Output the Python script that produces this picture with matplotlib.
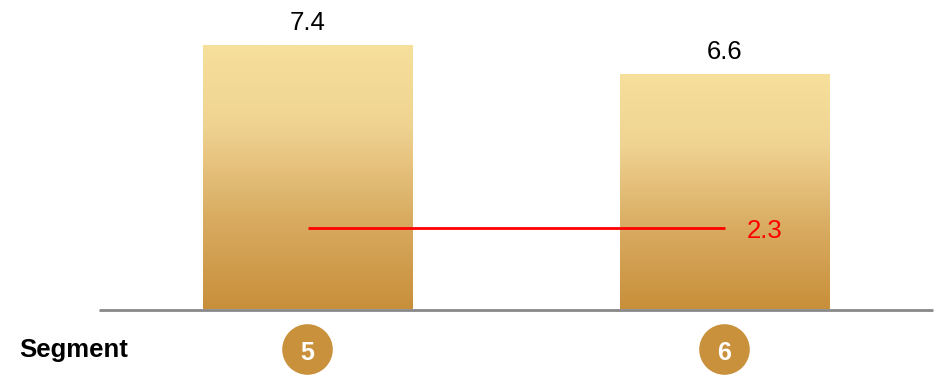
import numpy as np
import matplotlib
matplotlib.use("Agg")
import matplotlib.pyplot as plt
from matplotlib.colors import LinearSegmentedColormap
from matplotlib.patches import Circle

plt.rcParams['font.family'] = ['Liberation Sans', 'DejaVu Sans']

segments = ["5", "6"]
values = [7.4, 6.6]
average = 2.3
row_label = "Segment"

gold = "#C9913C"
cmap = LinearSegmentedColormap.from_list(
    "gold_fade",
    [(0.0, "#C88F3A"), (0.35, "#D9AC62"), (0.7, "#F0D392"), (1.0, "#F6E09B")])

W, H = 941, 375
fig = plt.figure(figsize=(W / 100, H / 100), dpi=100)
ax = fig.add_axes([99 / W, (H - 309.5) / H, 834 / W, 309.5 / H])
ax.set_xlim(-0.5, 1.5)
ax.set_ylim(0, 8.7)
ax.axis("off")

x = np.arange(len(segments))
width = 0.503
bars = ax.bar(x, values, width=width, color="none", edgecolor="none")
grad = np.linspace(0, 1, 256).reshape(-1, 1)
for bar, v in zip(bars, values):
    x0 = bar.get_x()
    ax.imshow(grad, cmap=cmap, origin="lower", aspect="auto",
              extent=(x0, x0 + bar.get_width(), 0, v), zorder=1)
    ax.text(bar.get_x() + bar.get_width() / 2, v + 0.45, f"{v:.1f}",
            ha="center", va="baseline", fontsize=18.5, color="black")

# baseline
ax.plot([-0.5, 1.5], [0, 0], color="#888888", lw=2, zorder=3,
        solid_capstyle="butt", clip_on=False)

# average line
ax.plot([x[0], x[-1]], [average, average], color="#FF0000", lw=2, zorder=4,
        solid_capstyle="butt")
ax.text(x[-1] + 0.053, average - 0.28, f"{average:.1f}", color="#FF0000",
        ha="left", va="baseline", fontsize=18.5)

# segment badges below the axis
for xi, s in zip(x, segments):
    px, _ = ax.transData.transform((xi, 0))
    circ = Circle((px, H - 349.5), 25.3, transform=None,
                  facecolor=gold, edgecolor="none")
    fig.patches.append(circ)
    fig.text(px / W, 1 - 360 / H, s, ha="center", va="baseline",
             color="white", fontsize=18, fontweight="bold")

fig.text(19 / W, 1 - 356.7 / H, row_label, ha="left", va="baseline",
         fontsize=18.5, fontweight="bold", color="black")

fig.savefig("out.png", dpi=100, facecolor="white")
